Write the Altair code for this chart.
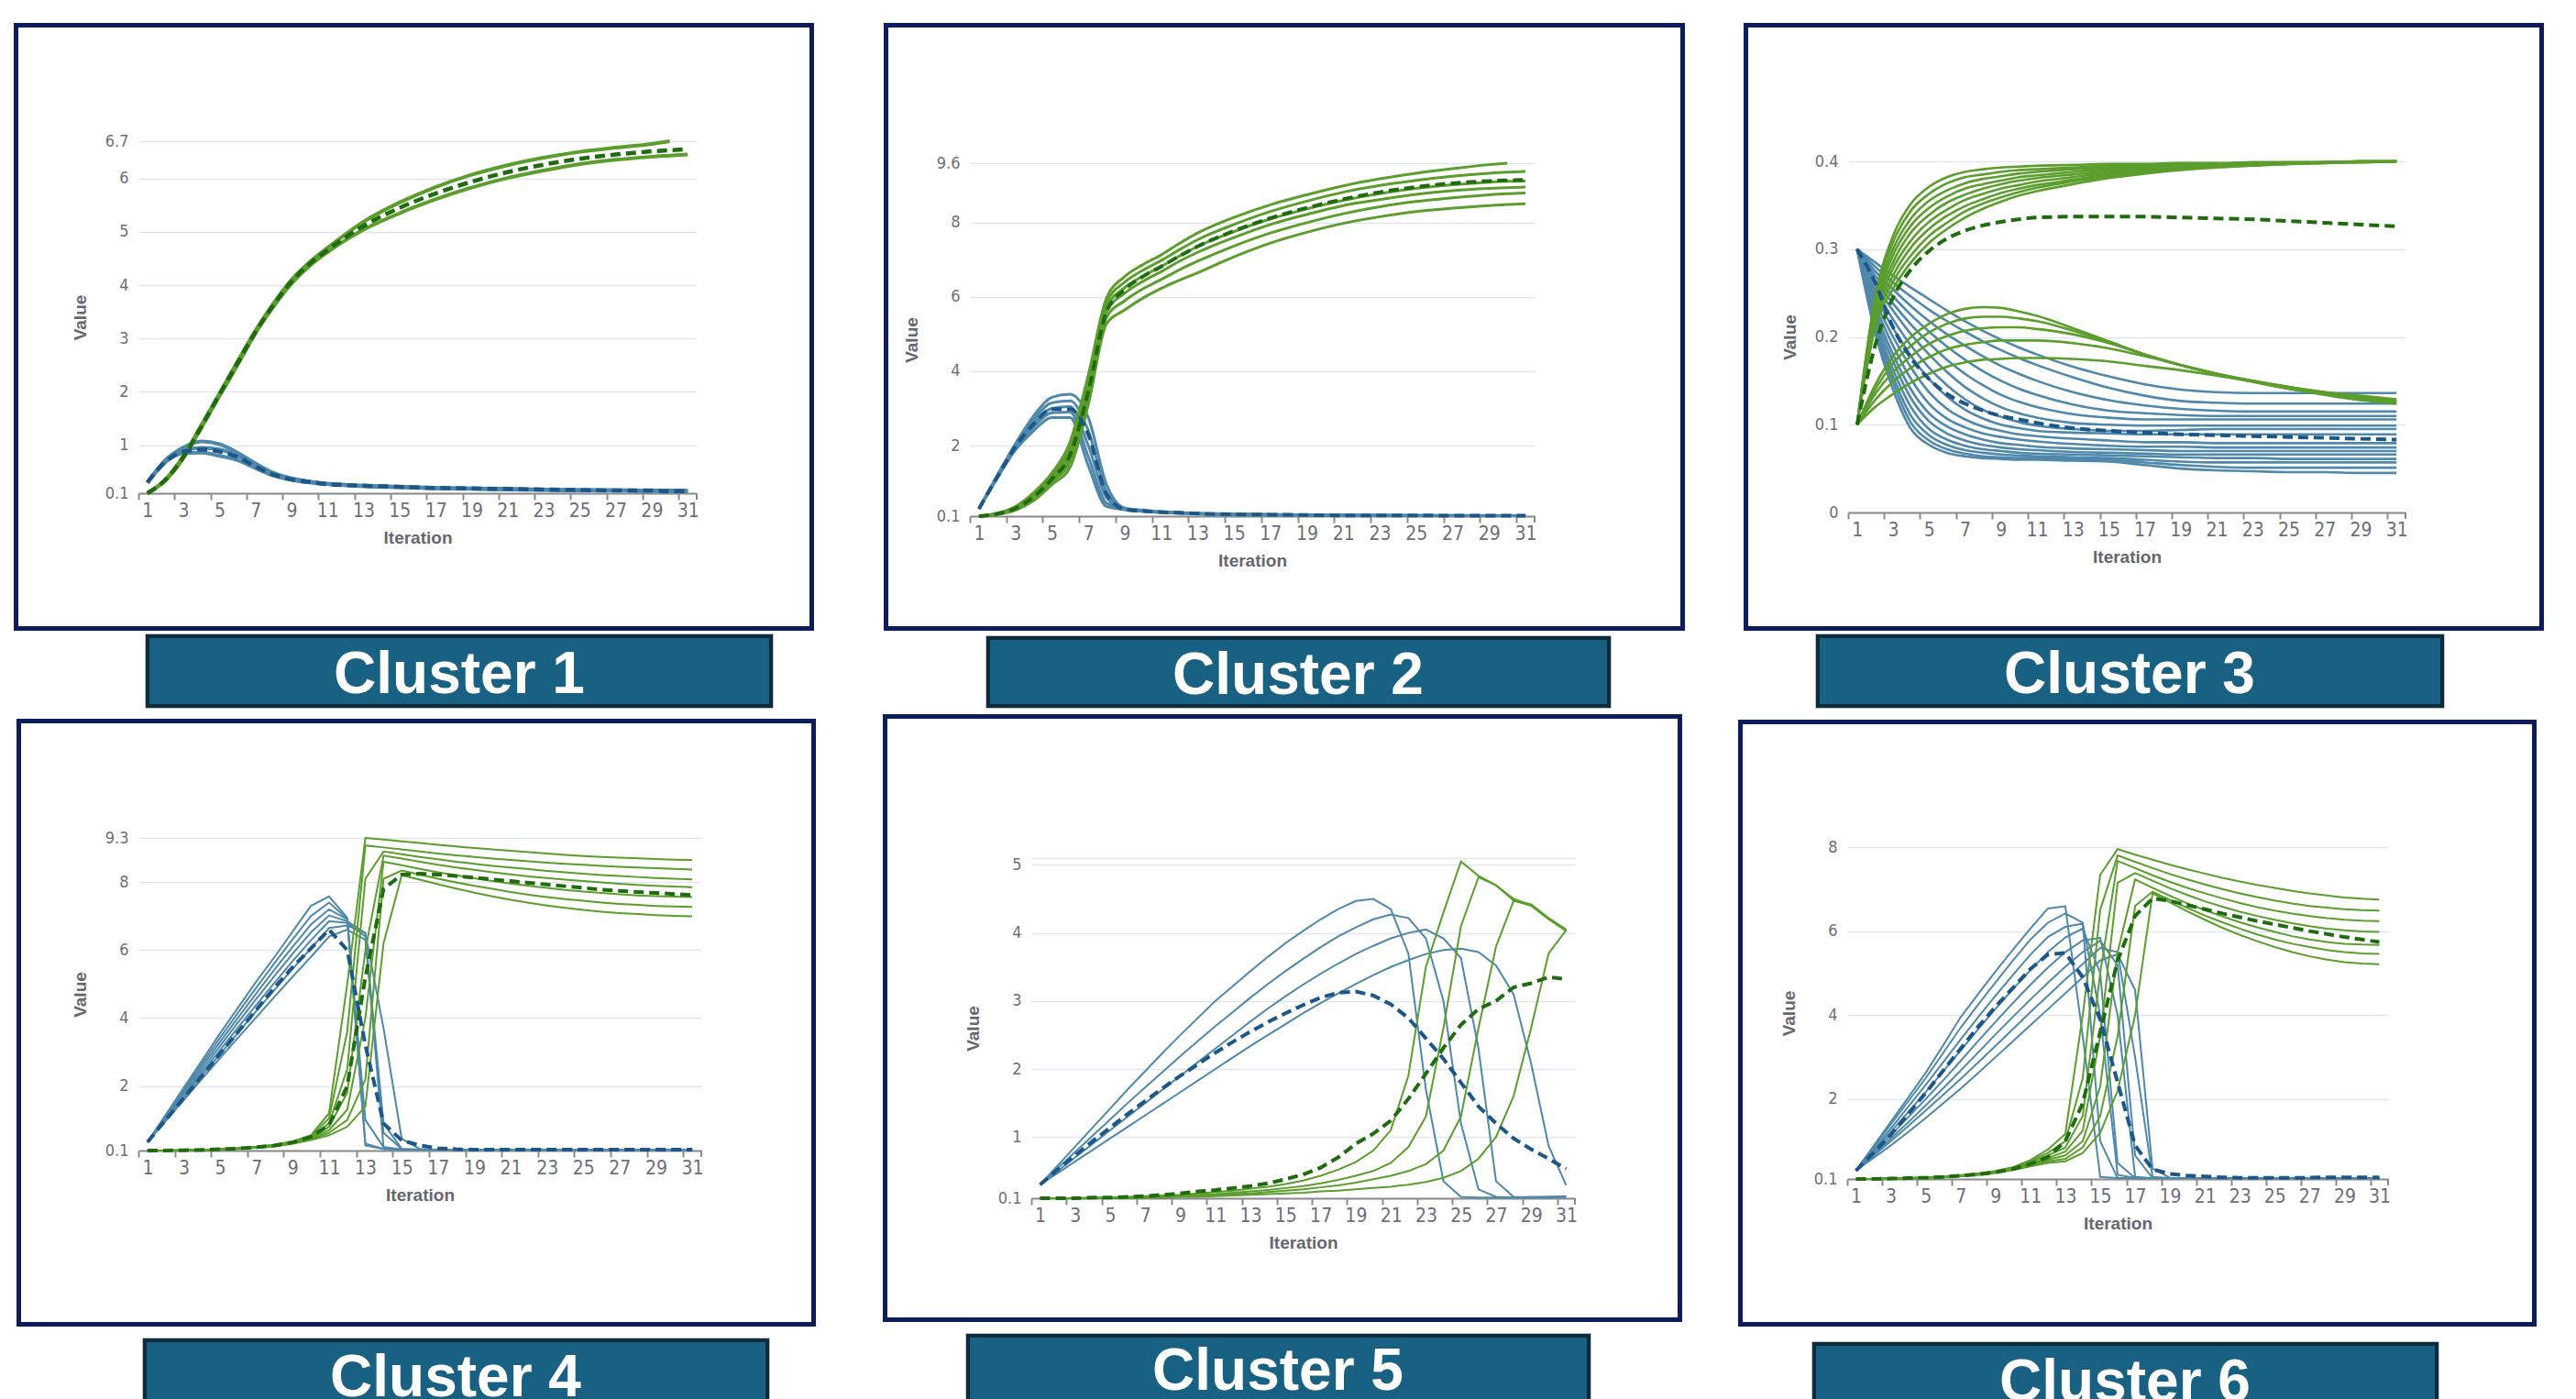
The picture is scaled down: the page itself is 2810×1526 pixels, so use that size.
import altair as alt
import pandas as pd

# ---------------- data ----------------
ITER = list(range(1, 32))

# Cluster 1
P1_X = [1, 2, 3, 4, 5, 6, 7, 8, 9, 10, 11, 13, 15, 17, 19, 21, 23, 25, 27, 29, 30, 31]
P1_GREEN = [
    [0.1, 0.36, 0.8, 1.38, 1.97, 2.57, 3.15, 3.66, 4.1, 4.43, 4.7, 5.19, 5.55, 5.84, 6.07, 6.25, 6.39, 6.5, 6.58, 6.65, 6.7, None],
    [0.1, 0.34, 0.76, 1.33, 1.92, 2.5, 3.1, 3.6, 4.03, 4.36, 4.62, 5.04, 5.35, 5.61, 5.83, 6.01, 6.15, 6.27, 6.35, 6.41, 6.43, 6.45],
]
P1_GREEN_MEAN = [0.1, 0.35, 0.78, 1.35, 1.95, 2.54, 3.12, 3.63, 4.07, 4.4, 4.66, 5.11, 5.45, 5.72, 5.94, 6.12, 6.26, 6.37, 6.45, 6.51, 6.53, 6.55]
P1_BLUE = [
    [0.3, 0.72, 0.96, 1.07, 1.02, 0.86, 0.66, 0.48, 0.38, 0.32, 0.28, 0.24, 0.22, 0.2, 0.19, 0.18, 0.17, 0.16, 0.16, 0.15, 0.15, 0.15],
    [0.3, 0.7, 0.9, 0.95, 0.92, 0.8, 0.62, 0.46, 0.37, 0.31, 0.27, 0.24, 0.22, 0.2, 0.19, 0.18, 0.17, 0.16, 0.15, 0.15, 0.15, 0.14],
    [0.3, 0.68, 0.85, 0.86, 0.8, 0.72, 0.57, 0.43, 0.35, 0.3, 0.27, 0.23, 0.21, 0.19, 0.18, 0.17, 0.16, 0.15, 0.15, 0.14, 0.14, 0.14],
]
P1_BLUE_MEAN = [0.3, 0.69, 0.88, 0.92, 0.88, 0.78, 0.6, 0.45, 0.36, 0.31, 0.27, 0.24, 0.22, 0.2, 0.19, 0.18, 0.17, 0.16, 0.15, 0.15, 0.14, 0.14]

# Cluster 2
P2_X = [1, 2, 3, 4, 5, 6, 7, 8, 9, 10, 11, 12, 13, 15, 17, 19, 21, 23, 25, 27, 29, 30, 31]
P2_GREEN = [
    [0.1, 0.18, 0.36, 0.73, 1.26, 2.1, 3.9, 5.97, 6.55, 6.87, 7.13, 7.44, 7.72, 8.14, 8.48, 8.75, 8.99, 9.18, 9.33, 9.45, 9.56, 9.6, None],
    [0.1, 0.17, 0.34, 0.68, 1.2, 1.95, 3.7, 5.85, 6.4, 6.72, 6.98, 7.27, 7.54, 7.95, 8.3, 8.58, 8.82, 9.0, 9.14, 9.25, 9.33, 9.36, 9.38],
    [0.1, 0.16, 0.32, 0.64, 1.14, 1.82, 3.55, 5.72, 6.25, 6.56, 6.82, 7.1, 7.36, 7.76, 8.1, 8.37, 8.6, 8.78, 8.92, 9.02, 9.09, 9.11, 9.12],
    [0.1, 0.16, 0.3, 0.6, 1.08, 1.7, 3.4, 5.6, 6.1, 6.42, 6.68, 6.96, 7.2, 7.6, 7.95, 8.22, 8.46, 8.62, 8.76, 8.86, 8.92, 8.94, 8.96],
    [0.1, 0.15, 0.28, 0.56, 1.02, 1.58, 3.25, 5.45, 5.9, 6.22, 6.47, 6.73, 6.96, 7.37, 7.72, 8.0, 8.24, 8.43, 8.57, 8.67, 8.75, 8.78, 8.8],
    [0.1, 0.15, 0.26, 0.52, 0.95, 1.42, 3.1, 5.28, 5.65, 5.97, 6.23, 6.45, 6.65, 7.08, 7.45, 7.74, 7.98, 8.16, 8.3, 8.39, 8.46, 8.49, 8.51],
]
P2_GREEN_MEAN = [0.1, 0.16, 0.31, 0.62, 1.1, 1.75, 3.45, 5.6, 6.2, 6.55, 6.82, 7.1, 7.36, 7.78, 8.12, 8.4, 8.63, 8.82, 8.96, 9.06, 9.12, 9.14, 9.15]
P2_BLUE = [
    [0.3, 1.2, 2.05, 2.8, 3.3, 3.38, 2.75, 0.95, 0.32, 0.26, 0.22, 0.2, 0.18, 0.16, 0.15, 0.14, 0.13, 0.13, 0.12, 0.12, 0.12, 0.12, 0.12],
    [0.3, 1.18, 2.0, 2.7, 3.15, 3.2, 2.4, 0.75, 0.3, 0.25, 0.21, 0.19, 0.17, 0.15, 0.14, 0.13, 0.13, 0.12, 0.12, 0.12, 0.11, 0.11, 0.11],
    [0.3, 1.16, 1.96, 2.6, 3.0, 3.05, 2.0, 0.6, 0.29, 0.24, 0.21, 0.19, 0.17, 0.15, 0.14, 0.13, 0.12, 0.12, 0.12, 0.11, 0.11, 0.11, 0.11],
    [0.3, 1.14, 1.92, 2.5, 2.88, 2.9, 1.7, 0.45, 0.28, 0.23, 0.2, 0.18, 0.16, 0.15, 0.14, 0.13, 0.12, 0.12, 0.11, 0.11, 0.11, 0.11, 0.11],
    [0.3, 1.12, 1.88, 2.4, 2.75, 2.75, 1.45, 0.36, 0.27, 0.23, 0.2, 0.18, 0.16, 0.14, 0.13, 0.12, 0.12, 0.11, 0.11, 0.11, 0.11, 0.11, 0.11],
]
P2_BLUE_MEAN = [0.3, 1.15, 1.97, 2.58, 2.98, 2.98, 2.3, 0.7, 0.28, 0.24, 0.21, 0.19, 0.17, 0.15, 0.14, 0.13, 0.12, 0.12, 0.12, 0.11, 0.11, 0.11, 0.11]

# Cluster 3
P3_X = [1, 2, 3, 4, 5, 6, 7, 8, 9, 10, 11, 13, 15, 17, 19, 21, 23, 25, 27, 29, 31]
P3_GREEN = [
    [.1, .245, .315, .352, .371, .382, .388, .391, .393, .394, .395, .396, .397, .397, .398, .398, .399, .399, .399, .4, .4],
    [.1, .241, .308, .344, .363, .375, .382, .385, .388, .390, .391, .393, .395, .396, .397, .397, .399, .399, .399, .4, .4],
    [.1, .236, .300, .335, .355, .367, .375, .380, .383, .386, .388, .391, .393, .394, .396, .397, .398, .399, .399, .4, .4],
    [.1, .232, .293, .327, .347, .360, .369, .374, .378, .382, .384, .388, .391, .393, .395, .396, .398, .398, .399, .4, .4],
    [.1, .228, .285, .319, .339, .353, .362, .369, .374, .378, .381, .385, .389, .392, .394, .396, .397, .398, .399, .4, .4],
    [.1, .223, .278, .310, .331, .345, .356, .363, .369, .373, .377, .382, .387, .390, .393, .395, .397, .398, .399, .399, .4],
    [.1, .219, .270, .302, .323, .338, .349, .357, .364, .369, .373, .379, .385, .389, .392, .394, .396, .398, .399, .399, .4],
    [.1, .214, .263, .293, .315, .330, .343, .352, .359, .365, .370, .377, .383, .387, .391, .394, .396, .397, .398, .399, .4],
    [.1, .210, .255, .285, .307, .323, .336, .346, .354, .361, .366, .374, .381, .386, .390, .393, .395, .397, .398, .399, .4],
    [.1, .145, .178, .200, .215, .226, .232, .234, .233, .229, .224, .210, .195, .180, .168, .158, .150, .143, .137, .133, .129],
    [.1, .140, .170, .190, .205, .215, .221, .223, .223, .221, .218, .207, .194, .180, .168, .158, .150, .143, .137, .132, .128],
    [.1, .135, .160, .178, .192, .201, .207, .210, .211, .211, .209, .203, .193, .180, .168, .158, .149, .142, .136, .131, .127],
    [.1, .128, .149, .165, .177, .186, .191, .194, .196, .196, .196, .193, .187, .178, .168, .158, .149, .141, .135, .130, .126],
    [.1, .120, .135, .148, .158, .166, .171, .174, .175, .176, .176, .175, .172, .167, .162, .156, .149, .141, .134, .128, .124],
]
P3_GREEN_MEAN = [.1, .19, .245, .277, .298, .312, .321, .327, .331, .334, .336, .337, .337, .337, .336, .335, .334, .332, .33, .328, .326]
P3_BLUE = [
    [.3, .205, .14, .095, .077, .068, .064, .062, .061, .06, .06, .059, .058, .054, .05, .048, .047, .046, .046, .045, .045],
    [.3, .21, .148, .102, .082, .072, .067, .064, .063, .062, .062, .061, .06, .057, .054, .052, .051, .051, .051, .051, .051],
    [.3, .215, .155, .11, .088, .077, .071, .068, .066, .065, .064, .063, .062, .06, .058, .057, .057, .057, .057, .057, .057],
    [.3, .22, .163, .12, .095, .083, .076, .072, .07, .068, .067, .066, .065, .064, .063, .062, .062, .061, .061, .061, .061],
    [.3, .225, .172, .13, .104, .09, .082, .077, .074, .072, .071, .069, .068, .067, .066, .066, .066, .066, .066, .066, .066],
    [.3, .23, .18, .14, .113, .098, .089, .083, .079, .077, .075, .073, .072, .071, .07, .07, .07, .07, .07, .07, .07],
    [.3, .236, .19, .152, .124, .107, .097, .09, .086, .083, .081, .078, .076, .075, .075, .074, .074, .074, .074, .074, .074],
    [.3, .242, .2, .165, .137, .118, .106, .098, .093, .089, .087, .084, .082, .08, .08, .079, .079, .079, .079, .079, .079],
    [.3, .248, .21, .178, .152, .132, .117, .107, .1, .096, .093, .091, .09, .089, .089, .089, .089, .089, .089, .089, .089],
    [.3, .254, .22, .19, .165, .145, .129, .117, .109, .103, .099, .095, .093, .093, .094, .095, .095, .095, .095, .095, .095],
    [.3, .26, .23, .203, .18, .16, .143, .13, .12, .113, .108, .102, .1, .099, .099, .099, .099, .099, .099, .099, .099],
    [.3, .265, .238, .214, .193, .174, .158, .145, .134, .126, .12, .112, .108, .106, .106, .106, .106, .106, .106, .106, .106],
    [.3, .27, .246, .225, .206, .189, .174, .161, .15, .141, .134, .123, .116, .113, .111, .11, .11, .11, .11, .11, .11],
    [.3, .275, .254, .235, .218, .203, .19, .178, .167, .158, .15, .137, .128, .122, .118, .116, .115, .115, .115, .115, .115],
    [.3, .28, .262, .246, .231, .218, .206, .195, .185, .176, .168, .154, .142, .133, .127, .125, .124, .124, .124, .124, .124],
    [.3, .285, .27, .256, .243, .23, .218, .207, .197, .188, .18, .166, .155, .146, .14, .137, .136, .136, .136, .136, .136],
]
P3_BLUE_MEAN = [.3, .262, .211, .176, .152, .135, .124, .116, .11, .106, .102, .096, .093, .091, .089, .088, .087, .086, .085, .084, .083]

# Cluster 4
P4_GREEN = [
    [0.1, 0.1, 0.11, 0.12, 0.14, 0.17, 0.21, 0.27, 0.37, 0.55, 1.2, 5.0, 9.3, 9.25, 9.2, 9.15, 9.1, 9.05, 9.0, 8.96, 8.92, 8.88, 8.84, 8.8, 8.77, 8.74, 8.72, 8.7, 8.68, 8.66, 8.65],
    [0.1, 0.1, 0.11, 0.12, 0.14, 0.17, 0.21, 0.27, 0.36, 0.52, 1.05, 3.6, 9.08, 9.02, 8.96, 8.9, 8.84, 8.79, 8.74, 8.69, 8.65, 8.61, 8.57, 8.54, 8.51, 8.48, 8.45, 8.43, 8.41, 8.39, 8.37],
    [0.1, 0.1, 0.11, 0.12, 0.14, 0.16, 0.2, 0.26, 0.35, 0.5, 0.9, 2.5, 8.1, 8.9, 8.82, 8.74, 8.67, 8.6, 8.54, 8.48, 8.43, 8.38, 8.33, 8.29, 8.25, 8.21, 8.18, 8.15, 8.12, 8.1, 8.08],
    [0.1, 0.1, 0.11, 0.12, 0.14, 0.16, 0.2, 0.25, 0.34, 0.48, 0.8, 1.8, 6.0, 8.78, 8.69, 8.6, 8.51, 8.43, 8.36, 8.29, 8.23, 8.17, 8.12, 8.07, 8.03, 7.99, 7.95, 7.92, 7.89, 7.87, 7.85],
    [0.1, 0.1, 0.11, 0.12, 0.13, 0.16, 0.19, 0.24, 0.32, 0.45, 0.7, 1.3, 4.0, 8.6, 8.5, 8.39, 8.29, 8.2, 8.11, 8.03, 7.96, 7.89, 7.83, 7.77, 7.72, 7.68, 7.64, 7.61, 7.59, 7.57, 7.56],
    [0.1, 0.1, 0.11, 0.12, 0.13, 0.15, 0.19, 0.23, 0.31, 0.43, 0.62, 1.0, 2.2, 8.1, 8.34, 8.22, 8.1, 7.99, 7.89, 7.8, 7.71, 7.63, 7.56, 7.5, 7.45, 7.4, 7.36, 7.33, 7.3, 7.28, 7.27],
    [0.1, 0.1, 0.11, 0.12, 0.13, 0.15, 0.18, 0.22, 0.3, 0.41, 0.55, 0.8, 1.4, 6.2, 8.2, 8.07, 7.94, 7.81, 7.69, 7.58, 7.48, 7.39, 7.31, 7.24, 7.18, 7.13, 7.09, 7.06, 7.03, 7.01, 6.99],
]
P4_GREEN_MEAN = [0.1, 0.1, 0.11, 0.12, 0.14, 0.16, 0.2, 0.25, 0.34, 0.5, 0.85, 2.0, 5.2, 7.8, 8.22, 8.25, 8.22, 8.18, 8.13, 8.08, 8.03, 7.98, 7.93, 7.88, 7.83, 7.78, 7.74, 7.71, 7.68, 7.65, 7.62]
P4_BLUE = [
    [0.35, 1.15, 1.95, 2.75, 3.55, 4.32, 5.08, 5.8, 6.55, 7.3, 7.58, 6.95, 0.25, 0.15, 0.13, 0.13, 0.13, 0.13, 0.13, 0.13, 0.13, 0.13, 0.13, 0.13, 0.13, 0.13, 0.13, 0.13, 0.13, 0.13, 0.13],
    [0.35, 1.12, 1.89, 2.66, 3.42, 4.17, 4.9, 5.62, 6.32, 7.0, 7.4, 6.92, 0.3, 0.15, 0.13, 0.13, 0.13, 0.13, 0.13, 0.13, 0.13, 0.13, 0.13, 0.13, 0.13, 0.13, 0.13, 0.13, 0.13, 0.13, 0.13],
    [0.35, 1.09, 1.83, 2.57, 3.3, 4.02, 4.73, 5.43, 6.1, 6.75, 7.2, 6.9, 1.0, 0.2, 0.13, 0.13, 0.13, 0.13, 0.13, 0.13, 0.13, 0.13, 0.13, 0.13, 0.13, 0.13, 0.13, 0.13, 0.13, 0.13, 0.13],
    [0.35, 1.06, 1.77, 2.48, 3.18, 3.88, 4.57, 5.24, 5.9, 6.52, 7.02, 6.85, 6.5, 0.2, 0.13, 0.13, 0.13, 0.13, 0.13, 0.13, 0.13, 0.13, 0.13, 0.13, 0.13, 0.13, 0.13, 0.13, 0.13, 0.13, 0.13],
    [0.35, 1.03, 1.71, 2.39, 3.06, 3.73, 4.39, 5.04, 5.68, 6.29, 6.85, 6.8, 6.4, 0.9, 0.15, 0.13, 0.13, 0.13, 0.13, 0.13, 0.13, 0.13, 0.13, 0.13, 0.13, 0.13, 0.13, 0.13, 0.13, 0.13, 0.13],
    [0.35, 1.0, 1.65, 2.3, 2.94, 3.58, 4.21, 4.83, 5.45, 6.05, 6.65, 6.72, 6.5, 3.7, 0.45, 0.15, 0.13, 0.13, 0.13, 0.13, 0.13, 0.13, 0.13, 0.13, 0.13, 0.13, 0.13, 0.13, 0.13, 0.13, 0.13],
    [0.35, 0.97, 1.59, 2.21, 2.82, 3.43, 4.03, 4.63, 5.22, 5.8, 6.4, 6.6, 6.3, 0.62, 0.15, 0.13, 0.13, 0.13, 0.13, 0.13, 0.13, 0.13, 0.13, 0.13, 0.13, 0.13, 0.13, 0.13, 0.13, 0.13, 0.13],
]
P4_BLUE_MEAN = [0.35, 1.0, 1.65, 2.3, 2.95, 3.6, 4.25, 4.9, 5.5, 6.05, 6.6, 6.0, 3.2, 0.9, 0.4, 0.25, 0.17, 0.14, 0.13, 0.13, 0.13, 0.13, 0.13, 0.13, 0.13, 0.13, 0.13, 0.13, 0.13, 0.13, 0.13]

# Cluster 5
P5_GREEN = [
    [0.1, 0.1, 0.1, 0.11, 0.11, 0.12, 0.13, 0.14, 0.15, 0.17, 0.19, 0.21, 0.24, 0.27, 0.31, 0.36, 0.43, 0.52, 0.63, 0.8, 1.1, 1.9, 3.5, 4.3, 5.05, 4.84, 4.7, 4.5, 4.41, 4.21, 4.04],
    [0.1, 0.1, 0.1, 0.1, 0.11, 0.11, 0.12, 0.13, 0.14, 0.15, 0.16, 0.18, 0.2, 0.22, 0.25, 0.28, 0.32, 0.37, 0.43, 0.5, 0.62, 0.85, 1.3, 2.6, 4.1, 4.82, 4.7, 4.48, 4.4, 4.2, 4.03],
    [0.1, 0.1, 0.1, 0.1, 0.1, 0.11, 0.11, 0.12, 0.13, 0.14, 0.15, 0.16, 0.17, 0.19, 0.21, 0.23, 0.26, 0.29, 0.33, 0.38, 0.43, 0.5, 0.6, 0.8, 1.3, 2.6, 3.8, 4.47, 4.42, 4.22, 4.05],
    [0.1, 0.1, 0.1, 0.1, 0.1, 0.1, 0.11, 0.11, 0.12, 0.12, 0.13, 0.14, 0.15, 0.16, 0.17, 0.18, 0.2, 0.21, 0.23, 0.25, 0.27, 0.3, 0.34, 0.4, 0.5, 0.68, 1.0, 1.6, 2.6, 3.7, 4.04],
]
P5_GREEN_MEAN = [0.1, 0.1, 0.1, 0.11, 0.11, 0.12, 0.13, 0.15, 0.17, 0.2, 0.22, 0.25, 0.28, 0.32, 0.38, 0.45, 0.55, 0.7, 0.9, 1.05, 1.24, 1.56, 1.93, 2.31, 2.65, 2.88, 3.0, 3.2, 3.26, 3.35, 3.32]
P5_BLUE = [
    [0.3, 0.58, 0.86, 1.14, 1.42, 1.7, 1.97, 2.24, 2.5, 2.75, 3.0, 3.22, 3.44, 3.65, 3.85, 4.03, 4.2, 4.35, 4.47, 4.5, 4.35, 3.7, 1.7, 0.35, 0.12, 0.11, 0.11, 0.11, 0.12, 0.12, 0.13],
    [0.3, 0.54, 0.78, 1.02, 1.26, 1.5, 1.73, 1.96, 2.19, 2.41, 2.63, 2.84, 3.05, 3.25, 3.44, 3.62, 3.79, 3.95, 4.08, 4.2, 4.27, 4.22, 3.92, 3.0, 1.2, 0.23, 0.12, 0.11, 0.11, 0.12, 0.12],
    [0.3, 0.5, 0.7, 0.9, 1.1, 1.3, 1.5, 1.7, 1.9, 2.1, 2.3, 2.5, 2.7, 2.89, 3.07, 3.24, 3.4, 3.55, 3.69, 3.81, 3.92, 4.0, 4.05, 3.92, 3.63, 2.3, 0.35, 0.12, 0.11, 0.11, 0.12],
    [0.3, 0.47, 0.64, 0.81, 0.98, 1.15, 1.32, 1.49, 1.66, 1.83, 2.0, 2.17, 2.34, 2.5, 2.66, 2.82, 2.97, 3.11, 3.25, 3.38, 3.5, 3.6, 3.69, 3.75, 3.77, 3.72, 3.52, 3.1, 2.08, 0.87, 0.29],
]
P5_BLUE_MEAN = [0.3, 0.52, 0.73, 0.94, 1.14, 1.34, 1.53, 1.72, 1.9, 2.07, 2.24, 2.4, 2.55, 2.69, 2.82, 2.94, 3.05, 3.12, 3.14, 3.08, 2.95, 2.75, 2.45, 2.15, 1.8, 1.45, 1.2, 0.98, 0.82, 0.68, 0.53]

# Cluster 6
P6_GREEN = [
    [0.1, 0.1, 0.11, 0.12, 0.14, 0.16, 0.19, 0.23, 0.29, 0.38, 0.55, 0.8, 1.17, 4.0, 7.34, 7.95, 7.82, 7.7, 7.58, 7.47, 7.37, 7.27, 7.18, 7.1, 7.03, 6.96, 6.9, 6.85, 6.8, 6.77, 6.75],
    [0.1, 0.1, 0.11, 0.12, 0.14, 0.16, 0.19, 0.23, 0.28, 0.37, 0.52, 0.72, 1.0, 2.5, 6.5, 7.8, 7.65, 7.5, 7.36, 7.23, 7.11, 7.0, 6.9, 6.81, 6.73, 6.66, 6.6, 6.56, 6.52, 6.5, 6.49],
    [0.1, 0.1, 0.11, 0.12, 0.13, 0.15, 0.18, 0.22, 0.27, 0.35, 0.49, 0.66, 0.85, 1.6, 5.0, 7.67, 7.5, 7.33, 7.17, 7.03, 6.9, 6.78, 6.67, 6.57, 6.49, 6.42, 6.36, 6.31, 6.27, 6.25, 6.24],
    [0.1, 0.1, 0.11, 0.12, 0.13, 0.15, 0.18, 0.21, 0.26, 0.34, 0.46, 0.6, 0.75, 1.25, 3.5, 7.15, 7.38, 7.2, 7.02, 6.86, 6.71, 6.58, 6.46, 6.36, 6.27, 6.19, 6.12, 6.06, 6.02, 5.99, 5.98],
    [0.1, 0.1, 0.11, 0.12, 0.13, 0.15, 0.17, 0.21, 0.26, 0.33, 0.44, 0.56, 0.66, 1.0, 2.3, 5.5, 7.23, 7.03, 6.84, 6.66, 6.5, 6.35, 6.21, 6.09, 5.98, 5.88, 5.8, 5.74, 5.7, 5.68, 5.67],
    [0.1, 0.1, 0.11, 0.12, 0.13, 0.14, 0.17, 0.2, 0.25, 0.32, 0.42, 0.52, 0.58, 0.85, 1.6, 3.5, 6.6, 6.94, 6.74, 6.55, 6.37, 6.21, 6.06, 5.92, 5.8, 5.7, 5.62, 5.55, 5.5, 5.47, 5.46],
    [0.1, 0.1, 0.11, 0.12, 0.13, 0.14, 0.17, 0.2, 0.24, 0.31, 0.4, 0.48, 0.52, 0.72, 1.2, 2.2, 4.0, 6.9, 6.68, 6.47, 6.27, 6.08, 5.91, 5.76, 5.62, 5.5, 5.4, 5.32, 5.26, 5.23, 5.21],
]
P6_GREEN_MEAN = [0.1, 0.1, 0.11, 0.12, 0.13, 0.15, 0.18, 0.21, 0.26, 0.34, 0.46, 0.62, 1.0, 1.9, 3.6, 5.3, 6.36, 6.78, 6.72, 6.62, 6.52, 6.42, 6.33, 6.24, 6.16, 6.08, 6.0, 5.93, 5.86, 5.8, 5.74]
P6_BLUE = [
    [0.3, 0.88, 1.46, 2.04, 2.63, 3.28, 3.95, 4.5, 5.04, 5.56, 6.06, 6.54, 6.59, 3.5, 0.15, 0.12, 0.12, 0.12, 0.12, 0.12, 0.12, 0.12, 0.12, 0.12, 0.12, 0.12, 0.12, 0.12, 0.12, 0.12, 0.12],
    [0.3, 0.85, 1.4, 1.95, 2.5, 3.1, 3.7, 4.25, 4.78, 5.3, 5.8, 6.2, 6.42, 6.2, 1.0, 0.12, 0.12, 0.12, 0.12, 0.12, 0.12, 0.12, 0.12, 0.12, 0.12, 0.12, 0.12, 0.12, 0.12, 0.12, 0.12],
    [0.3, 0.8, 1.3, 1.82, 2.34, 2.88, 3.42, 3.95, 4.46, 4.96, 5.44, 5.86, 6.1, 6.18, 4.0, 0.2, 0.12, 0.12, 0.12, 0.12, 0.12, 0.12, 0.12, 0.12, 0.12, 0.12, 0.12, 0.12, 0.12, 0.12, 0.12],
    [0.3, 0.76, 1.22, 1.69, 2.17, 2.66, 3.16, 3.66, 4.15, 4.62, 5.07, 5.5, 5.85, 6.06, 5.0, 0.48, 0.12, 0.12, 0.12, 0.12, 0.12, 0.12, 0.12, 0.12, 0.12, 0.12, 0.12, 0.12, 0.12, 0.12, 0.12],
    [0.3, 0.72, 1.14, 1.57, 2.0, 2.45, 2.91, 3.38, 3.84, 4.29, 4.72, 5.13, 5.5, 5.78, 5.84, 4.0, 0.15, 0.12, 0.12, 0.12, 0.12, 0.12, 0.12, 0.12, 0.12, 0.12, 0.12, 0.12, 0.12, 0.12, 0.12],
    [0.3, 0.68, 1.06, 1.45, 1.85, 2.26, 2.68, 3.11, 3.54, 3.96, 4.37, 4.77, 5.15, 5.5, 5.77, 5.19, 0.66, 0.12, 0.12, 0.12, 0.12, 0.12, 0.12, 0.12, 0.12, 0.12, 0.12, 0.12, 0.12, 0.12, 0.12],
    [0.3, 0.65, 1.0, 1.36, 1.73, 2.1, 2.48, 2.87, 3.27, 3.67, 4.07, 4.46, 4.85, 5.22, 5.6, 5.5, 3.0, 0.15, 0.12, 0.12, 0.12, 0.12, 0.12, 0.12, 0.12, 0.12, 0.12, 0.12, 0.12, 0.12, 0.12],
    [0.3, 0.6, 0.9, 1.22, 1.55, 1.9, 2.25, 2.62, 3.0, 3.38, 3.76, 4.14, 4.52, 4.9, 5.3, 5.45, 4.6, 0.35, 0.13, 0.12, 0.12, 0.12, 0.12, 0.12, 0.12, 0.12, 0.12, 0.12, 0.12, 0.12, 0.12],
]
P6_BLUE_MEAN = [0.3, 0.72, 1.15, 1.65, 2.15, 2.68, 3.2, 3.72, 4.2, 4.65, 5.1, 5.44, 5.48, 4.9, 3.9, 2.4, 0.9, 0.33, 0.22, 0.18, 0.16, 0.14, 0.13, 0.13, 0.13, 0.13, 0.13, 0.14, 0.14, 0.14, 0.14]

Y_DOMAINS = [[0.1, 6.7], [0.1, 9.6], [0.0, 0.4], [0.1, 9.3], [0.1, 5.1], [0.1, 8.0]]
Y_TICKS = [
    [0.1, 1, 2, 3, 4, 5, 6, 6.7],
    [0.1, 2, 4, 6, 8, 9.6],
    [0, 0.1, 0.2, 0.3, 0.4],
    [0.1, 2, 4, 6, 8, 9.3],
    [0.1, 1, 2, 3, 4, 5, 5.1],
    [0.1, 2, 4, 6, 8],
]
CLUSTER_NAMES = ["Cluster 1", "Cluster 2", "Cluster 3", "Cluster 4", "Cluster 5", "Cluster 6"]
X_LABELS = list(range(1, 32, 2))

# ---------------- layout (page pixel positions) ----------------
# plot = (left, data top, width, data bottom); ROW_TOP = common plot origin of the row
ROW_TOP = [154, 914]
LAYOUT = [
    dict(row=0, plot=(150, 154, 609, 538), frame=(14, 25, 887, 688), label=(158, 692, 842, 772), text=(500, 756), cell=(8, 8, 945, 778)),
    dict(row=0, plot=(1057, 178, 616, 563), frame=(963, 25, 1837, 688), label=(1075, 694, 1756, 772), text=(1415, 757), cell=(945, 8, 1880, 778)),
    dict(row=0, plot=(2015, 176, 608, 559), frame=(1901, 25, 2774, 688), label=(1980, 692, 2665, 772), text=(2322, 756), cell=(1880, 8, 2782, 778)),
    dict(row=1, plot=(151, 914, 614, 1255), frame=(18, 784, 890, 1447), label=(156, 1460, 839, 1540), text=(497, 1523), cell=(8, 778, 945, 1548)),
    dict(row=1, plot=(1125, 936, 593, 1307), frame=(963, 779, 1835, 1442), label=(1054, 1455, 1735, 1535), text=(1394, 1516), cell=(945, 778, 1880, 1548)),
    dict(row=1, plot=(2015, 924, 590, 1286), frame=(1896, 785, 2767, 1447), label=(1977, 1464, 2660, 1544), text=(2318, 1528), cell=(1880, 778, 2782, 1548)),
]
LINE_W = [4.0, 3.0, 2.6, 2.0, 2.0, 2.0]
DASH_W = [4.5, 4.0, 4.0, 4.0, 4.0, 4.0]
INTERP = ["monotone", "monotone", "monotone", "linear", "linear", "linear"]

NAVY = "#0b1e5b"
TEAL = "#196183"
TEAL_EDGE = "#0d2b3b"
GREEN = "#5b9e2d"
DGREEN = "#1f6b0f"
BLUE = "#4f88aa"
DBLUE = "#1d578a"
GRID = "#dfe6f0"
AXIS = "#8a8a8a"
LABEL = "#6e6e78"
TITLE = "#66666f"
NARROW = "Liberation Sans Narrow, DejaVu Sans Condensed, Roboto, sans-serif"
SANS = "Liberation Sans, Arial, sans-serif"


def to_long(xs, lines, tag):
    rows = []
    for k, ys in enumerate(lines):
        assert len(ys) == len(xs), (tag, k, len(ys), len(xs))
        for x, v in zip(xs, ys):
            if v is not None:
                rows.append({"Iteration": x, "Value": v, "run": f"{tag}{k}"})
    return pd.DataFrame(rows)


def panel(i, xs, greens, gmean, blues, bmean):
    g = LAYOUT[i]
    px, ptop, W, pbot = g["plot"]
    py = ROW_TOP[g["row"]]
    H = pbot - py
    unit = W / 31.0

    def rx(v):
        return v - px

    def ry(v):
        return v - py

    xscale = alt.Scale(domain=[0.5, 31.5], nice=False, zero=False)
    yscale = alt.Scale(domain=Y_DOMAINS[i], nice=False, zero=False, range=[H, ptop - py])
    xaxis = alt.Axis(
        values=X_LABELS, format="d", grid=False,
        domainColor=AXIS, domainWidth=2, tickColor=AXIS, tickWidth=2, tickSize=7,
        tickOffset=-unit / 2, labelOffset=unit / 2, labelFlush=False, labelOverlap=False,
        labelFont=NARROW, labelFontSize=21, labelColor=LABEL, labelPadding=12.5,
        labelBaseline="middle", labelAngle=0,
        title="Iteration", titleFont=SANS, titleFontSize=19, titleFontWeight="bold",
        titleColor=TITLE, titleX=W / 2, titleY=48, titleAlign="center", titleBaseline="middle",
    )
    yaxis_kw = dict(
        values=Y_TICKS[i], format=".1~f", grid=True, gridColor=GRID, gridWidth=1.5,
        domain=False, ticks=False, tickSize=0, labelOverlap=False, labelFlush=False,
        labelFont=NARROW, labelFontSize=18, labelColor=LABEL, labelPadding=11,
        title="Value", titleFont=SANS, titleFontSize=19, titleFontWeight="bold",
        titleColor=TITLE, titleX=-64, titleY=(ptop + pbot) / 2 - py, titleAngle=270,
        titleAlign="center", titleBaseline="middle",
    )
    if i == 4:
        yaxis_kw["labelExpr"] = "datum.value > 5.05 ? '' : datum.label"
    yaxis = alt.Axis(**yaxis_kw)

    X = alt.X("Iteration:Q", scale=xscale, axis=xaxis)
    Y = alt.Y("Value:Q", scale=yscale, axis=yaxis)

    one = pd.DataFrame({"k": [0]})
    cx1, cy1, cx2, cy2 = g["cell"]
    fx1, fy1, fx2, fy2 = g["frame"]
    lx1, ly1, lx2, ly2 = g["label"]
    tx, ty = g["text"]

    cell = alt.Chart(one).mark_rect(opacity=0).encode(
        x=alt.value(rx(cx1)), x2=alt.value(rx(cx2)), y=alt.value(ry(cy1)), y2=alt.value(ry(cy2)))
    frame = alt.Chart(one).mark_rect(fillOpacity=0, stroke=NAVY, strokeWidth=5).encode(
        x=alt.value(rx(fx1 + 2.5)), x2=alt.value(rx(fx2 - 2.5)),
        y=alt.value(ry(fy1 + 2.5)), y2=alt.value(ry(fy2 - 2.5)))
    lbox_out = alt.Chart(one).mark_rect(fillOpacity=0, stroke="#b9c2c9", strokeWidth=1).encode(
        x=alt.value(rx(lx1 - 0.5)), x2=alt.value(rx(lx2 + 0.5)),
        y=alt.value(ry(ly1 - 0.5)), y2=alt.value(ry(ly2 + 0.5)))
    lbox = alt.Chart(one).mark_rect(fill=TEAL, stroke=TEAL_EDGE, strokeWidth=4).encode(
        x=alt.value(rx(lx1 + 2)), x2=alt.value(rx(lx2 - 2)),
        y=alt.value(ry(ly1 + 2)), y2=alt.value(ry(ly2 - 2)))
    ltext = alt.Chart(one).mark_text(
        text=CLUSTER_NAMES[i], font=SANS, fontSize=64, fontWeight="bold", color="white",
        align="center", baseline="alphabetic").encode(x=alt.value(rx(tx)), y=alt.value(ry(ty)))

    df_b = to_long(xs, blues, "b")
    df_g = to_long(xs, greens, "g")
    df_bm = to_long(xs, [bmean], "bm")
    df_gm = to_long(xs, [gmean], "gm")

    lw, dw, ip = LINE_W[i], DASH_W[i], INTERP[i]
    blue = alt.Chart(df_b).mark_line(color=BLUE, strokeWidth=lw, interpolate=ip).encode(
        x=X, y=Y, detail="run:N")
    green = alt.Chart(df_g).mark_line(color=GREEN, strokeWidth=lw, interpolate=ip).encode(
        x=X, y=Y, detail="run:N")
    gm = alt.Chart(df_gm).mark_line(color=DGREEN, strokeWidth=dw, strokeDash=[11, 6], interpolate=ip).encode(
        x=X, y=Y)
    bm = alt.Chart(df_bm).mark_line(color=DBLUE, strokeWidth=dw, strokeDash=[11, 6], interpolate=ip).encode(
        x=X, y=Y)
    endtick = alt.Chart(pd.DataFrame({"Iteration": [31.5]})).mark_rule(color=AXIS, strokeWidth=2).encode(
        x=X, y=alt.value(H), y2=alt.value(H + 7))

    return alt.layer(cell, frame, lbox_out, lbox, ltext, blue, green, gm, bm, endtick).properties(
        width=W, height=H)


p1 = panel(0, P1_X, P1_GREEN, P1_GREEN_MEAN, P1_BLUE, P1_BLUE_MEAN)
p2 = panel(1, P2_X, P2_GREEN, P2_GREEN_MEAN, P2_BLUE, P2_BLUE_MEAN)
p3 = panel(2, P3_X, P3_GREEN, P3_GREEN_MEAN, P3_BLUE, P3_BLUE_MEAN)
p4 = panel(3, ITER, P4_GREEN, P4_GREEN_MEAN, P4_BLUE, P4_BLUE_MEAN)
p5 = panel(4, ITER, P5_GREEN, P5_GREEN_MEAN, P5_BLUE, P5_BLUE_MEAN)
p6 = panel(5, ITER, P6_GREEN, P6_GREEN_MEAN, P6_BLUE, P6_BLUE_MEAN)

chart = alt.vconcat(
    alt.hconcat(p1, p2, p3, spacing=0),
    alt.hconcat(p4, p5, p6, spacing=0),
    spacing=0,
).properties(
    padding={"left": 0, "top": 0, "right": 0, "bottom": 0},
    background="white",
).configure_view(strokeWidth=0)

chart.save("out.html", embed_options={"renderer": "svg", "actions": False})
